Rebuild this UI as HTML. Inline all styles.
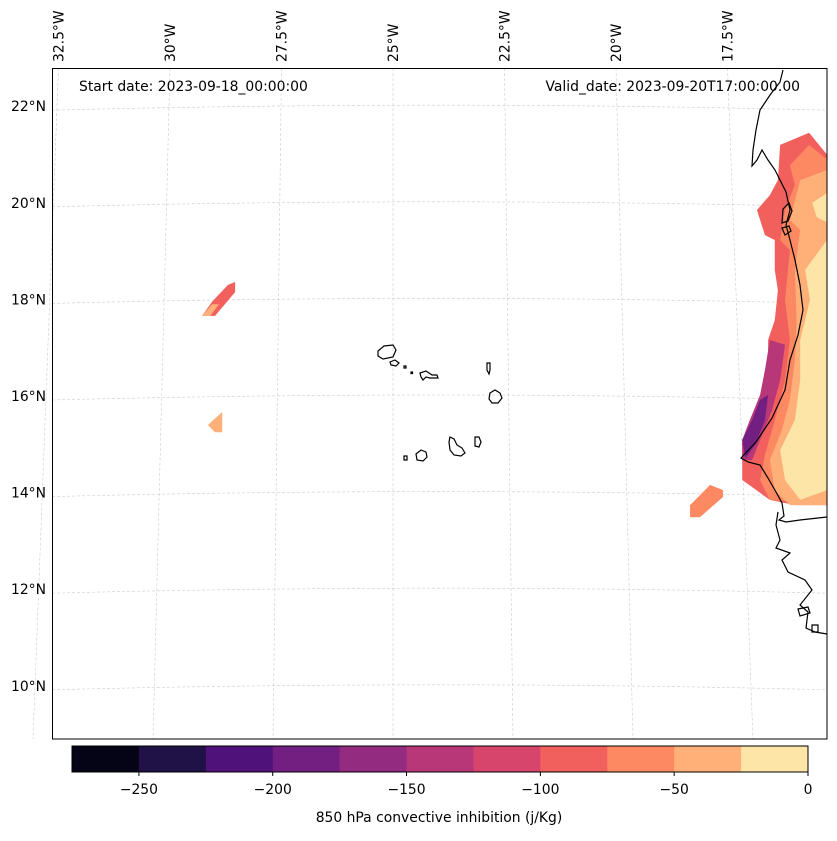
<!DOCTYPE html>
<html><head><meta charset="utf-8"><style>
body{margin:0;background:#fff;font-family:"Liberation Sans","DejaVu Sans",sans-serif}
svg text{font-family:"DejaVu Sans","Liberation Sans",sans-serif;font-size:13.9px;fill:#000}
</style></head><body>
<svg id="c" width="837" height="836" xmlns="http://www.w3.org/2000/svg">
<rect width="837" height="836" fill="#fff"/>
<g id="grid"></g>
<g id="fills"></g>
<g id="coast" fill="none" stroke="#000" stroke-width="1.2">
<path d="M783,70 L780,82 770,95 760,110 756,130 753,150 752,166 757,160 762,150 768,160 775,170 780,180 786,192 790,210 786,225 790,240 795,260 800,285 803,310 798,335 790,360 785,390 772,418 756,442 741,458 748,462 760,465 768,478 776,492 782,503 784,516 779,520 786,522 800,520 827,517"/>
<path d="M778,512 L776,525 780,540 776,548 790,553 782,560 788,572 805,580 812,590 800,605 808,612 806,628 815,632 827,634"/>
<path d="M783,209 l6,-6 3,8 -4,10 -6,2z M782,228 l7,-2 2,5 -6,4z"/>
<path d="M798,609 l10,-2 2,6 -10,3z M812,625 l6,0 0,7 -6,0z"/>
<path d="M378,351 l6,-5 9,-1 3,5 -3,7 -10,2 -5,-3z"/>
<path d="M390,362 l5,-2 4,3 -3,3 -5,-1z"/>
<path d="M404,366 l2,0 0,2 -2,0z M411,372 l1.5,0 0,1.5 -1.5,0z"/>
<path d="M420,373 l6,-2 6,4 5,0 1,3 -8,0 -4,-1 -3,3 -2,-3z"/>
<path d="M487,363 l3,0 0,7 -1,4 -2,-4z"/>
<path d="M490,393 l5,-3 5,3 2,5 -4,5 -6,0 -3,-4z"/>
<path d="M450,437 l4,2 3,6 5,3 3,5 -4,3 -7,-1 -4,-5 -1,-8z"/>
<path d="M475,437 l4,0 2,5 -2,5 -4,-1z"/>
<path d="M416,454 l5,-4 5,2 1,5 -4,4 -6,-1z"/>
<path d="M404,456 l3,0 0,4 -3,0z"/>
</g>
<rect x="52.5" y="68.5" width="774.5" height="670.5" fill="none" stroke="#000" stroke-width="1"/>
<g id="labels"></g>
<text x="79" y="91">Start date: 2023-09-18_00:00:00</text>
<text x="800" y="91" text-anchor="end">Valid_date: 2023-09-20T17:00:00.00</text>
<g id="cbar"></g>
<text x="439" y="822" text-anchor="middle">850 hPa convective inhibition (j/Kg)</text>
</svg>
<script>
const levels=[-275,-250,-225,-200,-175,-150,-125,-100,-75,-50,-25,0];
const colors=["#050416","#201146","#4f127b","#721f81","#932b80","#b73779","#d8456c","#f1605d","#fc8961","#feb078","#fde5a7"];
const cbarTicks=[-250,-200,-150,-100,-50,0];
const latTicks=[22,20,18,16,14,12,10];
const lonTicks=[-32.5,-30,-27.5,-25,-22.5,-20,-17.5];
const regionLevels=[7,5,3,8,9,10,10,7,9,9,8];
const regionPolys=[
[[-16.32,21.2],[-15.67,21.45],[-15.27,21.0],[-15.27,13.74],[-15.99,13.74],[-16.55,13.85],[-17.17,14.26],[-17.17,15.09],[-16.88,15.5],[-16.66,16.23],[-16.59,16.64],[-16.59,17.16],[-16.44,17.57],[-16.37,18.19],[-16.44,18.61],[-16.44,19.23],[-16.66,19.33],[-16.84,19.85],[-16.55,20.16],[-16.37,20.47]],
[[-16.55,17.16],[-16.21,17.06],[-16.32,16.33],[-16.5,15.71],[-16.77,15.09],[-16.95,14.67],[-17.17,14.67],[-17.17,15.09],[-17.0,15.5],[-16.77,16.02],[-16.66,16.54]],
[[-17.17,15.09],[-16.95,15.5],[-16.77,15.92],[-16.59,16.02],[-16.66,15.5],[-16.88,14.99],[-17.1,14.71]],
[[-16.1,20.78],[-15.67,21.2],[-15.27,20.9],[-15.27,13.74],[-16.55,13.85],[-16.77,14.26],[-16.66,14.78],[-16.44,15.5],[-16.21,16.33],[-16.1,17.16],[-16.21,17.99],[-16.1,19.02],[-16.32,19.23],[-16.21,19.85],[-15.99,20.37]],
[[-15.87,20.47],[-15.27,20.68],[-15.27,13.74],[-16.1,13.74],[-16.44,14.05],[-16.55,14.67],[-16.28,15.3],[-16.1,15.92],[-15.99,16.74],[-15.95,17.57],[-15.99,18.61],[-15.87,19.44],[-16.1,19.64]],
[[-15.76,18.61],[-15.27,19.23],[-15.27,14.05],[-15.87,13.85],[-16.21,14.26],[-16.32,14.88],[-15.99,15.5],[-15.87,16.33],[-15.87,17.16],[-15.65,17.99]],
[[-15.6,20.0],[-15.27,20.2],[-15.27,19.6],[-15.5,19.7]],
[[-29.28,17.66],[-28.99,17.66],[-28.54,18.15],[-28.54,18.36],[-28.7,18.3],[-29.06,17.95]],
[[-29.28,17.66],[-29.1,17.66],[-28.9,17.9],[-29.06,17.9]],
[[-29.15,15.4],[-28.83,15.67],[-28.83,15.25],[-28.99,15.25]],
[[-18.34,13.74],[-17.89,14.16],[-17.6,14.05],[-17.6,13.91],[-18.12,13.49],[-18.34,13.49]]
];
const svgNS="http://www.w3.org/2000/svg";
function Y(lat){return 396-(lat-16)*48.3;}
function px(lon,lat){return [393+(lon+25)*44.6,Y(lat)];}
function mk(tag,attrs,parent){const e=document.createElementNS(svgNS,tag);for(const k in attrs)e.setAttribute(k,attrs[k]);parent.appendChild(e);return e;}
const grid=document.getElementById('grid');
latTicks.forEach(l=>{const y=Y(l);
 const ln=mk('path',{d:`M52,${y+4} Q440,${y-6} 827,${y+4}`,stroke:'#ccc','stroke-width':0.6,'stroke-dasharray':'3,2',fill:'none'},grid);
 
 
 const t=mk('text',{x:46,y:y+5,'text-anchor':'end'},document.getElementById('labels'));t.textContent=l+'°N';
 
 
});
lonTicks.forEach(l=>{const xt=393+(l+25)*44.6;const xb=xt+(l+25)*3.4;
 const ln=mk('line',{x1:xt,y1:68,x2:xb,y2:739,stroke:'#ccc','stroke-width':0.6,'stroke-dasharray':'3,2'},grid);
 
 
 const t=mk('text',{x:0,y:0,'text-anchor':'start',transform:`translate(${xt+5},62) rotate(-90)`},document.getElementById('labels'));t.textContent=Math.abs(l)+'°W';
 
 
});
const fills=document.getElementById('fills');
regionPolys.forEach((poly,i)=>{
 const pts=poly.map(p=>px(p[0],p[1]).join(',')).join(' ');
 const e=mk('polygon',{points:pts,fill:colors[regionLevels[i]]},fills);
 
 
});
const cb=document.getElementById('cbar');
const cx0=72,cx1=808,cy=746,ch=26;
function CX(v){return cx0+(v-levels[0])/(levels[levels.length-1]-levels[0])*(cx1-cx0);}
colors.forEach((c,i)=>{const e=mk('rect',{x:CX(levels[i]),y:cy,width:CX(levels[i+1])-CX(levels[i])+0.5,height:ch,fill:c},cb);
 
 });
mk('rect',{x:cx0,y:cy,width:cx1-cx0,height:ch,fill:'none',stroke:'#000','stroke-width':1},cb);
cbarTicks.forEach(v=>{const x=CX(v);mk('line',{x1:x,y1:cy+ch,x2:x,y2:cy+ch+4,stroke:'#000'},cb);
 const t=mk('text',{x:x,y:794,'text-anchor':'middle'},cb);t.textContent=(v<0?'\u2212'+(-v):v);
 
 });
</script>
</body></html>
